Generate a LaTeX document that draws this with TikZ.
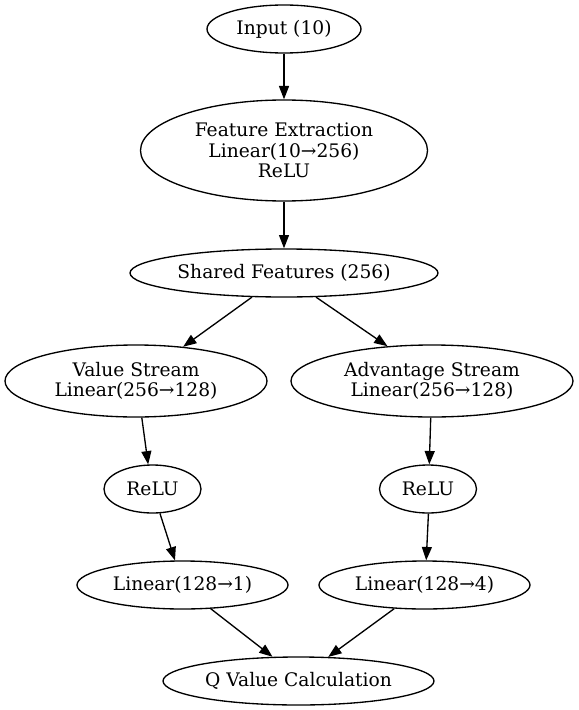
\documentclass[tikz,border=0pt]{standalone}
\usepackage{fontspec}
\setmainfont{DejaVu Serif}
\usetikzlibrary{shapes.geometric,arrows.meta}
\begin{document}
\begin{tikzpicture}[x=0.75pt,y=-0.75pt,
  nd/.style={draw,ellipse,inner sep=0pt,line width=1pt,align=center,
    font=\fontsize{14}{15.4}\selectfont},
  ar/.style={line width=1pt,-{Triangle[length=10pt,width=7.5pt]}}]
\useasboundingbox (0,0) rectangle (578,710);
\node[nd,minimum width=115.5pt,minimum height=36pt] (in) at (284,29) {Input (10)};
\node[nd,minimum width=215.25pt,minimum height=75.75pt] (fe) at (284,150.5) {Feature Extraction\\Linear(10→256)\\ReLU};
\node[nd,minimum width=231pt,minimum height=36pt] (sh) at (284,273) {Shared Features (256)};
\node[nd,minimum width=196.5pt,minimum height=54pt] (vs) at (136,381) {Value Stream\\Linear(256→128)};
\node[nd,minimum width=211.5pt,minimum height=54pt] (as) at (432,381) {Advantage Stream\\Linear(256→128)};
\node[nd,minimum width=72.75pt,minimum height=36pt] (rl) at (152.5,489) {ReLU};
\node[nd,minimum width=72.75pt,minimum height=36pt] (rr) at (428,489) {ReLU};
\node[nd,minimum width=158.25pt,minimum height=36pt] (l1) at (182.5,585) {Linear(128→1)};
\node[nd,minimum width=158.25pt,minimum height=36pt] (l4) at (424.5,585) {Linear(128→4)};
\node[nd,minimum width=203.25pt,minimum height=36pt] (q) at (298.5,681) {Q Value Calculation};
\draw[ar] (in.south) -- (fe.north);
\draw[ar] (fe.south) -- (sh.north);
\draw[ar] (sh.217.7) -- (vs.36.5);
\draw[ar] (sh.323.1) -- (as.142.9);
\draw[ar] (vs.279.5) -- (rl.100.6);
\draw[ar] (as.268.4) -- (rr.87.6);
\draw[ar] (rl.287.4) -- (l1.107.4);
\draw[ar] (rr.271) -- (l4.86);
\draw[ar] (l1.320.9) -- (q.137.8);
\draw[ar] (l4.218.2) -- (q.39.1);
\end{tikzpicture}
\end{document}
